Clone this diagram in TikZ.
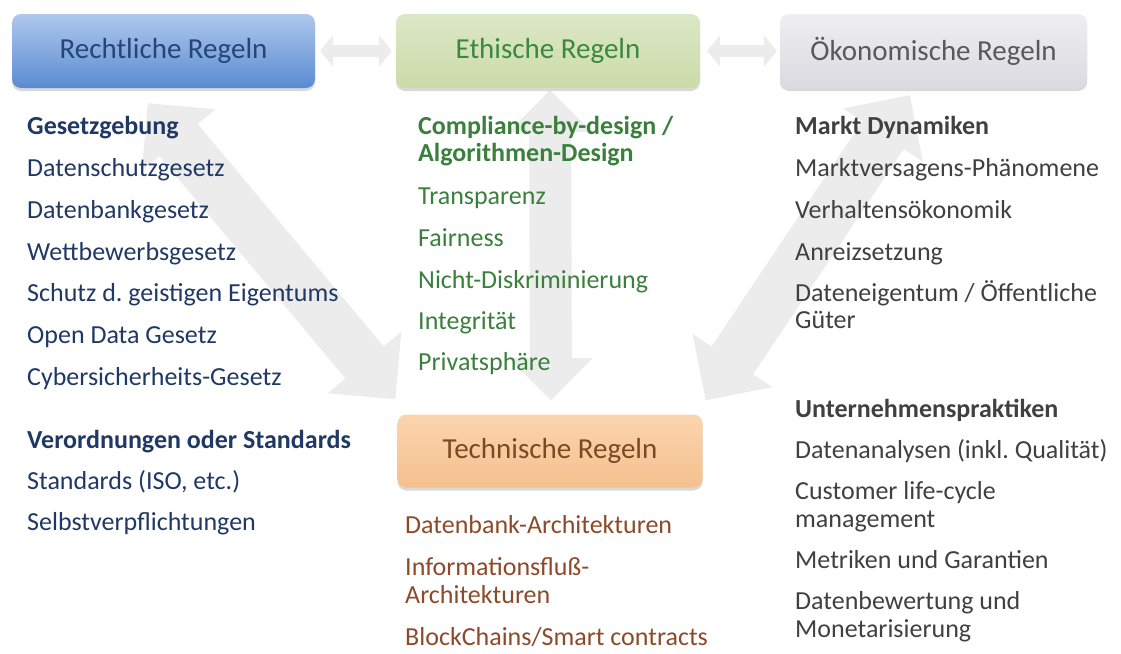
\documentclass[tikz,border=0pt]{standalone}
\usepackage{fontspec}
\setmainfont{Carlito}
\usetikzlibrary{calc,shadows,backgrounds}
\frenchspacing

\definecolor{rlTop}{HTML}{AFC8EC}
\definecolor{rlBot}{HTML}{5A8BD2}
\definecolor{rlText}{HTML}{26457A}
\definecolor{rlBody}{HTML}{1F3864}
\definecolor{ethTop}{HTML}{DCE7C6}
\definecolor{ethBot}{HTML}{CCDBA9}
\definecolor{ethText}{HTML}{3A8A3E}
\definecolor{ethBody}{HTML}{3A803C}
\definecolor{oekTop}{HTML}{EEEEF2}
\definecolor{oekBot}{HTML}{DADAE0}
\definecolor{oekText}{HTML}{595959}
\definecolor{oekBody}{HTML}{404040}
\definecolor{techTop}{HTML}{FBD5AE}
\definecolor{techBot}{HTML}{F4C08E}
\definecolor{techText}{HTML}{7A4A26}
\definecolor{techBody}{HTML}{8C4A2A}
\definecolor{arrowGray}{HTML}{ECECEC}

% double-headed block arrow: tip, tip, head length, head half width, shaft half width
\newcommand{\dblarrow}[5]{%
  \fill[arrowfill] (#1)
    -- ($(#1)!#3!(#2)!#4!90:(#2)$) -- ($(#1)!#3!(#2)!#5!90:(#2)$)
    -- ($(#2)!#3!(#1)!#5!-90:(#1)$) -- ($(#2)!#3!(#1)!#4!-90:(#1)$)
    -- (#2)
    -- ($(#2)!#3!(#1)!#4!90:(#1)$) -- ($(#2)!#3!(#1)!#5!90:(#1)$)
    -- ($(#1)!#3!(#2)!#5!-90:(#2)$) -- ($(#1)!#3!(#2)!#4!-90:(#2)$)
    -- cycle;}

\tikzset{
  rulebox/.style={rounded corners=9pt, inner sep=0pt,
    font=\fontsize{29}{33}\selectfont,
    drop shadow={shadow xshift=0pt, shadow yshift=-3pt, opacity=0.3}},
  item/.style={anchor=base west, inner sep=0pt, font=\fontsize{26}{30}\selectfont},
  head/.style={item, font=\fontsize{26}{30}\selectfont\bfseries},
  arrowfill/.style={fill=arrowGray},
}

\begin{document}
\begin{tikzpicture}[x=1pt, y=-1pt]
\useasboundingbox (0,0) rectangle (1121,653);

% the four rule boxes
\node[rulebox, top color=rlTop, bottom color=rlBot, text=rlText,
      minimum width=303pt, minimum height=74pt] (rl) at (163.5,51) {Rechtliche Regeln};
\node[rulebox, top color=ethTop, bottom color=ethBot, text=ethText,
      minimum width=304pt, minimum height=74pt] (eth) at (548,51) {Ethische Regeln};
\node[rulebox, top color=oekTop, bottom color=oekBot, text=oekText,
      minimum width=307pt, minimum height=74pt] (oek) at (933.5,51) {Ökonomische Regeln};
\node[rulebox, top color=techTop, bottom color=techBot, text=techText,
      minimum width=305pt, minimum height=73pt] (tech) at (550,451) {Technische Regeln};

% arrow end points
\coordinate (h1a) at ($(rl.east)+(5,0)$);
\coordinate (h1b) at ($(eth.west)+(-4,0)$);
\coordinate (h2a) at ($(eth.east)+(7,0)$);
\coordinate (h2b) at ($(oek.west)+(-3,0)$);
\coordinate (d1a) at ($(rl.south west)+(136,15)$);
\coordinate (d1b) at ($(tech.north west)+(-2,-15)$);
\coordinate (va)  at ($(eth.south)+(2,2)$);
\coordinate (vb)  at ($(tech.north)+(1,-14)$);
\coordinate (d2a) at ($(oek.south west)+(130,7)$);
\coordinate (d2b) at ($(tech.north east)+(3,-14)$);

\begin{pgfonlayer}{background}
  \dblarrow{h1a}{h1b}{13pt}{16pt}{6pt}
  \dblarrow{h2a}{h2b}{13pt}{16pt}{6pt}
  \dblarrow{d1a}{d1b}{48pt}{48pt}{25pt}
  \dblarrow{va}{vb}{42pt}{42pt}{21pt}
  \dblarrow{d2a}{d2b}{48pt}{48pt}{25pt}
\end{pgfonlayer}

% legal rules
\begin{scope}[text=rlBody]
\node[head] (l0) at (27,134) {Gesetzgebung};
\node[item] (l1) at (27,176) {Datenschutzgesetz};
\node[item] (l2) at (27,218) {Datenbankgesetz};
\node[item] (l3) at (27,260) {Wettbewerbsgesetz};
\node[item] (l4) at (27,301) {Schutz d. geistigen Eigentums};
\node[item] (l5) at (27,343) {Open Data Gesetz};
\node[item] (l6) at (27,385) {Cybersicherheits-Gesetz};
\node[head] (l7) at (27,448) {Verordnungen oder Standards};
\node[item] (l8) at (27,489) {Standards (ISO, etc.)};
\node[item] (l9) at (27,530) {Selbstverpflichtungen};
\end{scope}

% ethical rules
\begin{scope}[text=ethBody]
\node[head] (e0) at (418,134) {Compliance-by-design /};
\node[head] (e1) at (418,161) {Algorithmen-Design};
\node[item] (e2) at (418,204) {Transparenz};
\node[item] (e3) at (418,246) {Fairness};
\node[item] (e4) at (418,288) {Nicht-Diskriminierung};
\node[item] (e5) at (418,329) {Integrität};
\node[item] (e6) at (418,370) {Privatsphäre};
\end{scope}

% economic rules
\begin{scope}[text=oekBody]
\node[head] (o0) at (795,134) {Markt Dynamiken};
\node[item] (o1) at (795,176) {Marktversagens-Phänomene};
\node[item] (o2) at (795,218) {Verhaltensökonomik};
\node[item] (o3) at (795,260) {Anreizsetzung};
\node[item] (o4) at (795,301) {Dateneigentum / Öffentliche};
\node[item] (o5) at (795,328) {Güter};
\node[head] (o6) at (795,417) {Unternehmenspraktiken};
\node[item] (o7) at (795,458) {Datenanalysen (inkl. Qualität)};
\node[item] (o8) at (795,499) {Customer life-cycle};
\node[item] (o9) at (795,527) {management};
\node[item] (o10) at (795,568) {Metriken und Garantien};
\node[item] (o11) at (795,609) {Datenbewertung und};
\node[item] (o12) at (795,637) {Monetarisierung};
\end{scope}

% technical rules
\begin{scope}[text=techBody]
\node[item] (t1) at (405,533) {Datenbank-Architekturen};
\node[item] (t2) at (405,575) {Informationsfluß-};
\node[item] (t3) at (405,603) {Architekturen};
\node[item] (t4) at (405,645) {BlockChains/Smart contracts};
\end{scope}
\end{tikzpicture}
\end{document}
